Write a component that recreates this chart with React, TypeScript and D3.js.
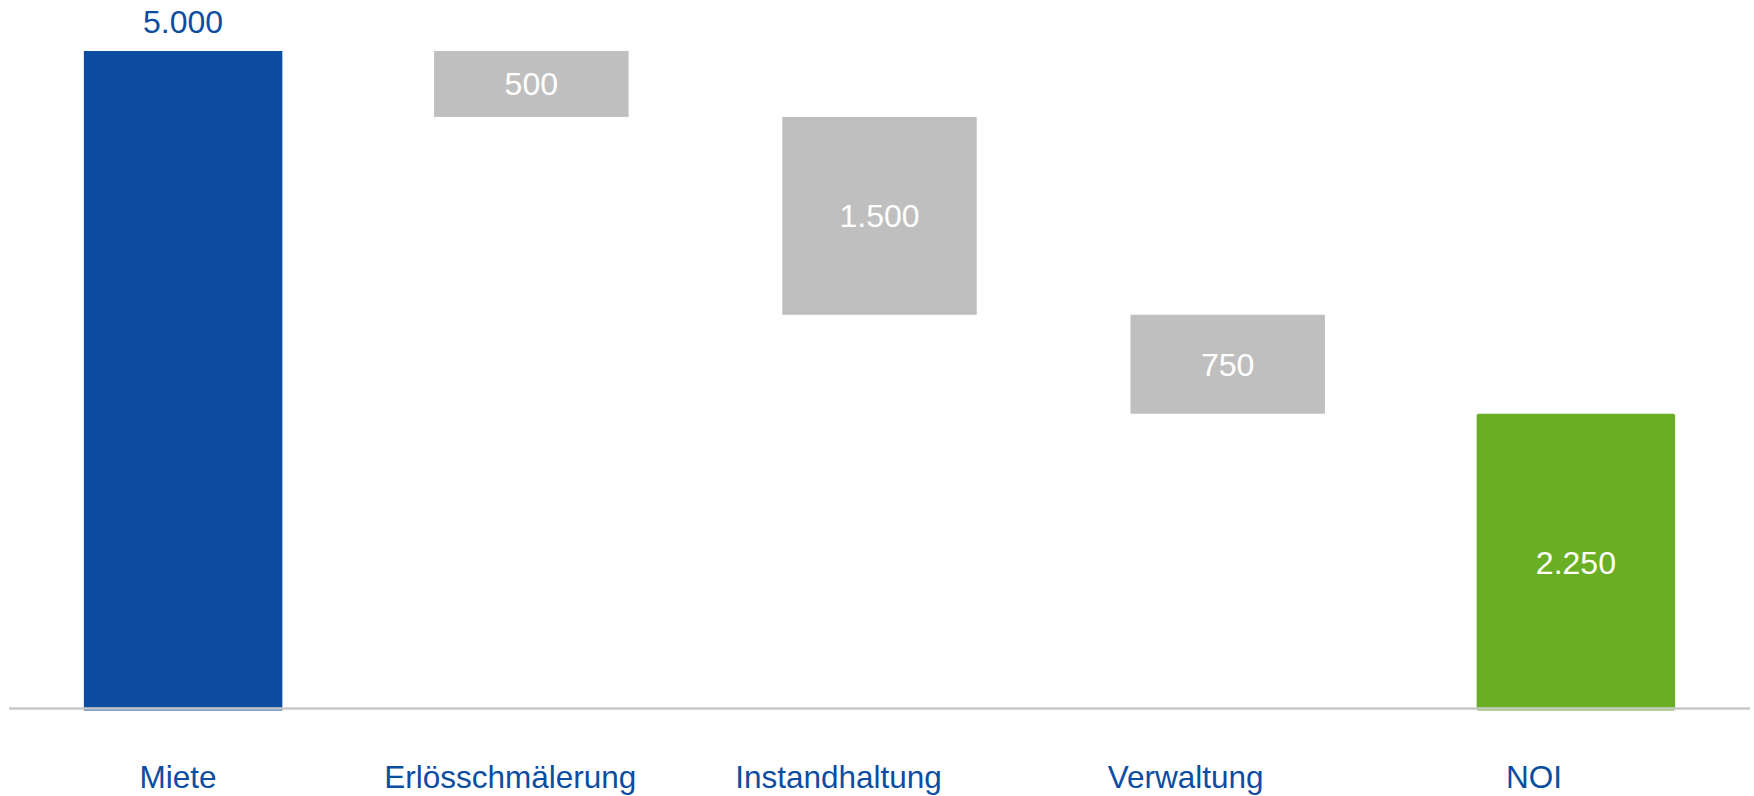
import React from "react";
import * as d3 from "d3";

const categories = ["Miete", "Erlösschmälerung", "Instandhaltung", "Verwaltung", "NOI"];
const values = [5000, -500, -1500, -750, 2250];
const kinds = ["total", "delta", "delta", "delta", "total"];
const labels = ["5.000", "500", "1.500", "750", "2.250"];

const W = 1754;
const H = 796;
const BLUE = "#0C4DA2";
const GRAY = "#BFBFBF";
const GREEN = "#6AAF23";
// horizontal nudge of category labels relative to bar centers (layout only)
const labelShift = [-5, -21, -41, -42, -42];

export default function App() {
  const x = d3
    .scaleBand<string>()
    .domain(categories)
    .range([9, 1750])
    .paddingInner(0.43)
    .paddingOuter(0.215);
  const y = d3.scaleLinear().domain([0, 5000]).range([710.5, 51]);

  let running = 0;
  const bars = categories.map((c, i) => {
    const v = values[i];
    let y0: number, y1: number;
    if (kinds[i] === "total") {
      y0 = 0;
      y1 = v;
      running = v;
    } else {
      y0 = running;
      y1 = running + v;
      running = y1;
    }
    const top = y(Math.max(y0, y1));
    const bottom = y(Math.min(y0, y1));
    const fill = i === 0 ? BLUE : kinds[i] === "total" ? GREEN : GRAY;
    const inset = kinds[i] === "total" ? 0 : 2;
    return { c, i, top, bottom, fill, inset };
  });

  const font = "'Liberation Sans', Arial, sans-serif";

  return (
    <svg
      width={W}
      height={H}
      style={{ position: "absolute", left: 0, top: 0, background: "#fff" }}
      fontFamily={font}
    >
      {bars.map((b) => (
        <rect
          key={b.c}
          x={(x(b.c) as number) + b.inset}
          y={b.top}
          width={x.bandwidth() - 2 * b.inset}
          height={b.bottom - b.top}
          fill={b.fill}
          rx={b.i === 4 ? 2 : 0}
        />
      ))}
      <line x1={9} x2={1750} y1={708.5} y2={708.5} stroke="#C8C8C8" strokeWidth={2.5} />
      {bars.map((b) => {
        const cx = (x(b.c) as number) + x.bandwidth() / 2;
        if (b.i === 0) {
          return (
            <text key={"l" + b.c} x={cx} y={b.top - 18} textAnchor="middle" fontSize={32} fill={BLUE}>
              {labels[b.i]}
            </text>
          );
        }
        return (
          <text
            key={"l" + b.c}
            x={cx}
            y={(b.top + b.bottom) / 2 + 11.5}
            textAnchor="middle"
            fontSize={32}
            fill="#fff"
          >
            {labels[b.i]}
          </text>
        );
      })}
      {categories.map((c, i) => (
        <text
          key={"c" + c}
          x={(x(c) as number) + x.bandwidth() / 2 + labelShift[i]}
          y={787.5}
          textAnchor="middle"
          fontSize={31.5}
          fill={BLUE}
        >
          {c}
        </text>
      ))}
    </svg>
  );
}
